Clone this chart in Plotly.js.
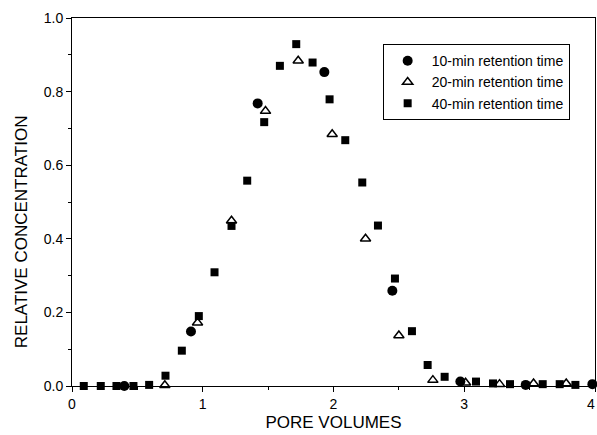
<!DOCTYPE html>
<html>
<head>
<meta charset="utf-8">
<script src="https://cdn.plot.ly/plotly-3.0.1.min.js"></script>
<style>html,body{margin:0;padding:0;background:#fff;}#chart{width:597px;height:435px;}</style>
</head>
<body>
<div id="chart"></div>
<script>
// 10-min retention time (filled circles)
const x10 = [0.40, 0.91, 1.42, 1.93, 2.45, 2.97, 3.47, 3.98];
const y10 = [0.0, 0.148, 0.768, 0.853, 0.259, 0.012, 0.003, 0.005];

// 20-min retention time (open triangles)
const x20 = [0.71, 0.96, 1.22, 1.48, 1.73, 1.99, 2.245, 2.50, 2.76, 3.01, 3.27, 3.53, 3.78];
const y20 = [0.002, 0.172, 0.449, 0.747, 0.884, 0.684, 0.40, 0.137, 0.016, 0.009, 0.005, 0.007, 0.007];

// 40-min retention time (filled squares)
const x40 = [0.09, 0.22, 0.34, 0.47, 0.59, 0.715, 0.84, 0.97, 1.09, 1.22, 1.34, 1.47, 1.59, 1.715, 1.84, 1.97, 2.09, 2.22, 2.34, 2.47, 2.60, 2.72, 2.85, 3.09, 3.22, 3.35, 3.60, 3.73, 3.85];
const y40 = [0.0, 0.0, 0.0, 0.0, 0.003, 0.028, 0.096, 0.19, 0.309, 0.435, 0.558, 0.717, 0.87, 0.929, 0.879, 0.779, 0.668, 0.553, 0.436, 0.292, 0.149, 0.057, 0.025, 0.012, 0.007, 0.005, 0.005, 0.005, 0.003];

const names = ["10-min retention time", "20-min retention time", "40-min retention time"];
const xTicks = [0, 1, 2, 3, 4];
const yTicks = [0.0, 0.2, 0.4, 0.6, 0.8, 1.0];
const xTitle = "PORE VOLUMES";
const yTitle = "RELATIVE CONCENTRATION";

const font = "Liberation Sans, Arial, sans-serif";

const traces = [
  {x: x10, y: y10, name: names[0], type: "scatter", mode: "markers", cliponaxis: false,
   marker: {symbol: "circle", size: 10, color: "#000"}},
  {x: x20, y: y20, name: names[1], type: "scatter", mode: "markers", cliponaxis: false,
   marker: {symbol: "triangle-up-open", size: 9, color: "#000", line: {width: 1.5, color: "#000"}}},
  {x: x40, y: y40, name: names[2], type: "scatter", mode: "markers", cliponaxis: false,
   marker: {symbol: "square", size: 8, color: "#000"}}
];

const lastX = xTicks[xTicks.length - 1];

const layout = {
  width: 597, height: 435,
  margin: {l: 72, r: 2, t: 18, b: 49},
  paper_bgcolor: "#fff", plot_bgcolor: "#fff",
  font: {family: font, size: 14, color: "#000"},
  showlegend: true,
  legend: {x: 0.594, y: 0.929, xanchor: "left", yanchor: "top",
    bgcolor: "#fff", bordercolor: "#000", borderwidth: 1, itemwidth: 38,
    font: {family: font, size: 14, color: "#000"}, tracegroupgap: 0},
  xaxis: {
    range: [0, 4], tickvals: xTicks, ticktext: xTicks.map(String),
    showgrid: false, zeroline: false, showline: true, linecolor: "#000", linewidth: 1, mirror: true,
    ticks: "outside", ticklen: 5, tickcolor: "#000",
    minor: {dtick: 0.5, ticks: "outside", ticklen: 3, tickcolor: "#000", showgrid: false},
    tickfont: {family: font, size: 14, color: "#000"},
    title: {text: xTitle, font: {family: font, size: 17, color: "#000"}, standoff: 5}
  },
  yaxis: {
    range: [0, 1], tickvals: yTicks, ticktext: yTicks.map(v => v.toFixed(1)),
    showgrid: false, zeroline: false, showline: true, linecolor: "#000", linewidth: 1, mirror: true,
    ticks: "outside", ticklen: 5, tickcolor: "#000",
    minor: {dtick: 0.1, ticks: "outside", ticklen: 3, tickcolor: "#000", showgrid: false},
    tickfont: {family: font, size: 14, color: "#000"}
  },
  annotations: [
    {xref: "paper", yref: "paper", x: -0.096, y: 0.42, xanchor: "center", yanchor: "middle",
     text: yTitle, textangle: -90, showarrow: false, font: {family: font, size: 17, color: "#000"}},
    {xref: "x", yref: "paper", x: lastX, y: 0, yshift: -8, xshift: -4, xanchor: "center", yanchor: "top",
     text: String(lastX), showarrow: false, font: {family: font, size: 14, color: "#000"}}
  ]
};

Plotly.newPlot("chart", traces, layout, {displayModeBar: false, staticPlot: true});
</script>
</body>
</html>
